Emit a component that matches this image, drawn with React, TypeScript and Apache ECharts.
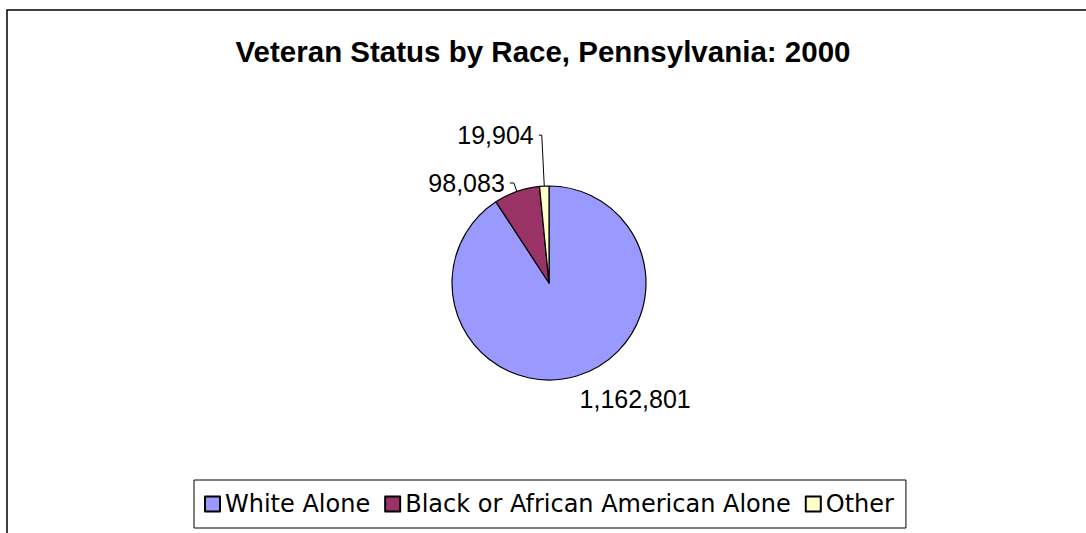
import React, { useEffect, useRef } from "react";
import * as echarts from "echarts";

const titleText = "Veteran Status by Race, Pennsylvania: 2000";
const categories = ["White Alone", "Black or African American Alone", "Other"];
const values = [1162801, 98083, 19904];
const colors = ["#9999FF", "#993366", "#FFFFCC"];

const FONT = "'Liberation Sans', Arial, Helvetica, sans-serif";
const LEGEND_FONT = "'DejaVu Sans', 'Liberation Sans', Arial, sans-serif";

export default function App() {
  const ref = useRef<HTMLDivElement>(null);

  useEffect(() => {
    const chart = echarts.init(ref.current as HTMLDivElement, null, { renderer: "svg" });
    const labelLines = [
      { show: false, length: 24, length2: -9 },
      { show: true, length: 9, length2: 4 },
      { show: true, length: 51, length2: 3 },
    ];
    chart.setOption({
      animation: false,
      backgroundColor: "#ffffff",
      title: {
        text: titleText,
        left: "center",
        top: 31,
        textStyle: { fontFamily: FONT, fontSize: 29.5, fontWeight: "bold", color: "#000" },
      },
      legend: {
        show: true,
        orient: "horizontal",
        left: 194,
        top: 480,
        padding: [12, 12, 12, 10],
        itemGap: 14,
        itemWidth: 15,
        itemHeight: 15,
        icon: "rect",
        borderColor: "#000",
        borderWidth: 1,
        selectedMode: false,
        textStyle: { fontFamily: LEGEND_FONT, fontSize: 24, color: "#000" },
        data: categories,
      },
      graphic: [
        {
          type: "rect",
          silent: true,
          z: 100,
          shape: { x: 7, y: 10, width: 1200, height: 700 },
          style: { fill: "none", stroke: "#000", lineWidth: 1.5 },
        },
      ],
      series: [
        {
          type: "pie",
          center: [549, 283],
          radius: 97,
          startAngle: 90,
          clockwise: true,
          avoidLabelOverlap: false,
          itemStyle: { borderColor: "#000", borderWidth: 1.2 },
          label: {
            show: true,
            position: "outside",
            formatter: (p: any) => Number(p.value).toLocaleString("en-US"),
            fontFamily: FONT,
            fontSize: 25,
            color: "#000",
          },
          labelLine: { lineStyle: { color: "#000", width: 1 } },
          emphasis: { disabled: true },
          data: categories.map((name, i) => ({
            name,
            value: values[i],
            itemStyle: { color: colors[i] },
            labelLine: labelLines[i],
          })),
        },
      ],
    });
    return () => chart.dispose();
  }, []);

  return (
    <div
      ref={ref}
      style={{ position: "absolute", left: 0, top: 0, width: 1086, height: 533, background: "#fff" }}
    />
  );
}
